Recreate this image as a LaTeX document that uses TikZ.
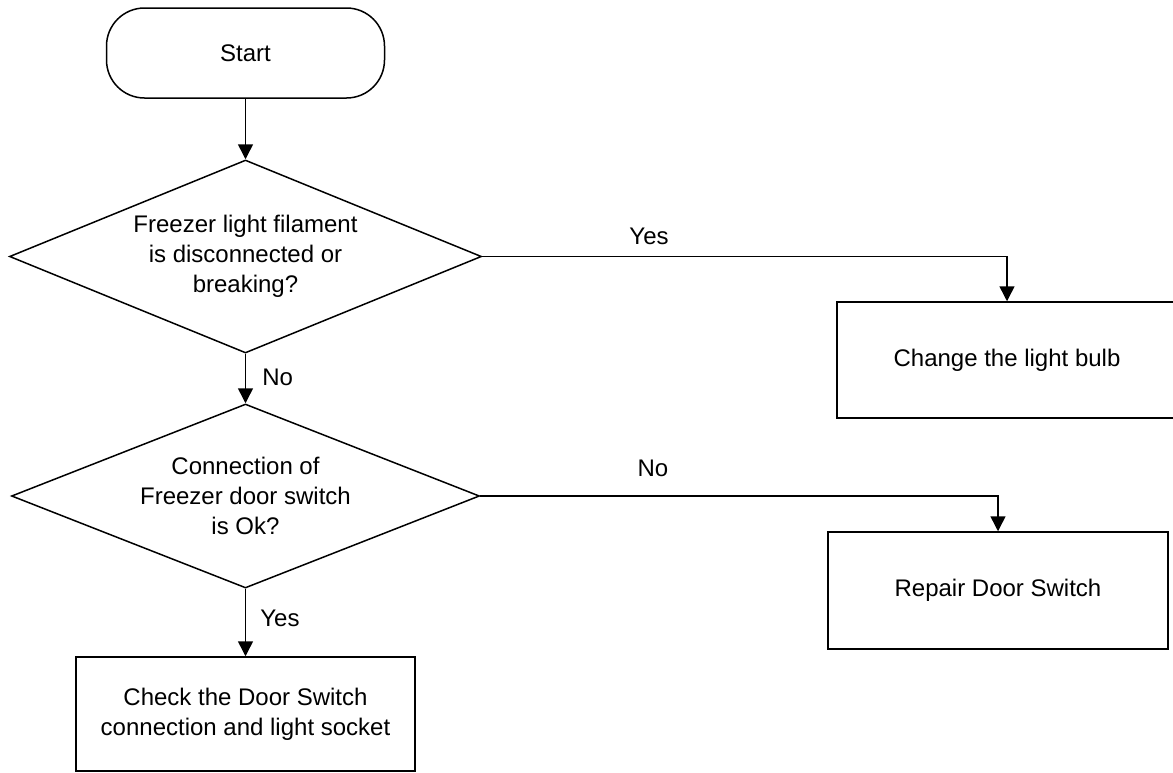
\documentclass[tikz,border=0pt]{standalone}
\usepackage{fontspec}
\setmainfont{Liberation Sans}
\usetikzlibrary{shapes.geometric,arrows.meta}
\begin{document}
\begin{tikzpicture}[x=0.5pt,y=-0.5pt,
  every node/.style={font=\fontsize{12}{15}\selectfont},
  line/.style={draw, line width=0.75pt},
  arr/.style={line, -{Triangle[length=7.5pt,width=7.5pt]}},
  proc/.style={draw, line width=0.75pt, rectangle, inner sep=0pt, align=center},
  dec/.style={draw, line width=0.75pt, diamond, aspect=2.45, inner sep=0pt, align=center},
  lbl/.style={inner sep=0pt}]
\useasboundingbox (0,0) rectangle (1173,772);
\node[proc, rounded corners=19pt, minimum width=139pt, minimum height=45pt] (start) at (245.5,53) {Start};
\node[dec, minimum width=236pt, minimum height=96.5pt] (d1) at (245.5,256.5) {Freezer light filament\\is disconnected or\\breaking?};
\node[dec, minimum width=234pt, minimum height=92pt] (d2) at (245.5,496) {Connection of\\Freezer door switch\\is Ok?};
\node[proc, minimum width=170pt, minimum height=58pt] (b1) at (1007,360) {Change the light bulb};
\node[proc, minimum width=170pt, minimum height=58.5pt] (b2) at (998,590.5) {Repair Door Switch};
\node[proc, minimum width=169.5pt, minimum height=57pt] (b3) at (245.5,714) {Check the Door Switch\\connection and light socket};
\draw[arr] (start.south) -- (d1.north);
\draw[arr] (d1.south) -- (d2.north);
\draw[arr] (d2.south) -- (b3.north);
\draw[arr] (d1.east) -| (b1.north);
\draw[arr] (d2.east) -| (b2.north);
\node[lbl] (lyes1) at (649,236) {Yes};
\node[lbl] (lno1) at (653,468) {No};
\node[lbl, anchor=west] (lno2) at (262,377) {No};
\node[lbl, anchor=west] (lyes2) at (260,618) {Yes};
\end{tikzpicture}
\end{document}
